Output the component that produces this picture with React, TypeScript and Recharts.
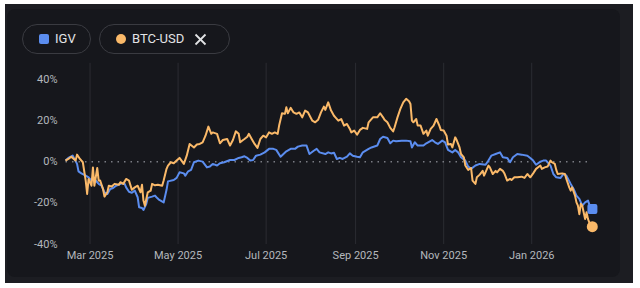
import React from "react";
import { LineChart, Line, XAxis, YAxis, ReferenceLine } from "recharts";

// x values: days since 2025-02-12
const IGV_DAYS = [0,2,5,8,9,11,14,16,18,19,22,23,25,27,29,31,33,35,39,41,42,44,46,48,50,51,53,54,56,57,60,62,63,65,68,70,71,75,77,79,82,83,85,87,89,92,95,98,100,102,105,107,110,114,117,120,122,124,126,128,130,132,135,138,141,144,146,149,151,153,156,159,161,164,167,169,172,174,176,180,182,184,186,188,190,192,195,197,199,202,204,206,210,212,216,218,220,223,225,227,229,233,236,239,240,242,244,248,250,254,256,258,261,263,265,268,270,272,274,277,279,281,284,287,291,293,295,298,301,303,306,308,310,313,316,320,322,324,326,329,331,333,336,338,340,343,345,347,350,352,354,356,358,360,362,364];
const IGV_VALUES = [0.5,1.8,2.9,-1.1,-4.7,-5.7,-6.8,-7.6,-9.2,-7.6,-10.0,-10.8,-11.7,-14.9,-15.7,-13.3,-12.8,-11.7,-10.5,-10.8,-12.5,-14.6,-15.1,-14.1,-17.3,-22.2,-22.5,-23.5,-20.5,-17.6,-17.0,-16.5,-17.3,-18.6,-19.8,-13.7,-9.6,-8.9,-7.9,-5.2,-5.7,-6.8,-4.7,-4.0,-0.3,0.5,0.0,-2.8,-2.4,-1.1,-1.9,-0.8,-0.3,0.8,0.8,1.8,2.1,2.6,1.8,0.5,0.8,2.9,3.4,4.5,6.2,6.2,5.7,2.4,3.7,5.0,6.2,6.2,7.3,7.8,7.8,3.7,5.3,6.2,4.5,3.7,4.5,4.0,4.3,1.3,1.8,1.3,2.4,4.0,2.9,2.4,2.1,4.5,6.2,6.9,7.8,11.0,12.1,11.5,8.9,10.2,9.9,10.2,10.2,9.9,6.9,9.4,7.8,7.8,8.9,10.5,9.4,8.6,10.2,9.4,5.7,4.5,5.7,4.5,2.1,0.5,-2.4,-3.5,-1.9,-1.1,-1.5,0.5,2.9,3.7,4.5,2.1,1.8,-0.3,2.1,3.7,3.4,2.9,1.8,0.5,-1.5,0.0,0.5,0.5,-1.9,-6.0,-7.6,-7.9,-6.0,-6.8,-10.8,-13.3,-16.5,-18.1,-21.4,-19.8,-18.9,-23.0];

const BTC_DAYS = [0,2,4,7,8,10,12,14,15,16,18,19,20,22,23,24,26,27,29,30,32,34,37,38,40,42,44,46,48,50,52,53,54,55,57,59,60,62,64,67,68,70,71,73,75,77,79,82,84,86,89,91,93,95,97,99,101,102,105,107,109,112,114,116,118,120,121,123,124,126,127,129,131,133,135,137,139,141,143,145,147,148,150,152,153,154,156,158,160,162,164,166,168,171,173,175,177,179,180,182,184,186,187,189,191,193,195,197,198,200,202,204,206,209,210,213,216,218,220,221,223,225,227,228,230,232,234,236,238,239,240,241,243,244,246,248,250,251,253,255,257,259,260,262,264,265,267,268,270,271,273,274,276,277,279,281,282,284,285,287,289,290,293,294,296,298,299,301,303,304,306,308,309,311,313,316,318,320,322,324,326,329,330,332,334,336,337,339,340,341,344,346,347,349,350,351,353,354,355,356,357,358,360,361,362,364];
const BTC_VALUES = [0.5,1.3,2.4,0.5,3.4,1.3,-0.3,-9.2,-15.7,-8.4,-11.7,-2.8,-11.7,-3.1,-9.2,-9.2,-13.3,-17.0,-14.9,-11.7,-12.1,-10.8,-11.2,-10.0,-10.8,-8.4,-9.2,-13.7,-12.5,-11.7,-14.9,-11.2,-18.9,-21.4,-14.9,-14.1,-10.8,-11.5,-11.2,-11.7,-9.2,-3.5,-1.9,-0.3,-0.8,0.5,1.8,-1.1,2.9,8.6,6.9,8.3,8.6,9.4,12.6,17.0,13.5,14.2,13.5,8.9,10.5,11.0,7.8,10.5,14.7,13.5,9.4,10.5,11.0,12.1,13.5,11.0,8.6,6.7,11.0,12.6,11.8,14.2,13.5,14.2,13.5,17.5,23.5,23.2,26.4,23.5,26.1,23.9,23.2,23.9,21.5,24.8,23.9,19.9,19.1,20.3,23.9,26.7,25.1,28.8,24.8,22.3,21.5,19.9,20.7,17.5,18.3,15.9,14.2,15.1,13.1,15.4,16.4,15.9,19.1,21.5,21.5,23.5,21.5,20.3,19.1,16.4,14.7,16.7,21.5,25.6,28.8,30.5,29.3,28.0,19.9,19.1,20.7,17.5,17.5,13.5,15.1,12.6,15.9,17.5,20.7,17.5,15.4,15.1,12.6,8.3,8.6,6.9,11.8,10.5,6.9,3.7,2.1,-1.9,-4.0,-3.1,-9.2,-10.8,-7.6,-6.3,-4.5,-6.8,-1.9,-2.8,-6.0,-4.5,-5.2,-3.5,-4.5,-5.6,-9.2,-8.4,-8.9,-7.6,-7.6,-7.3,-7.9,-6.0,-7.6,-5.7,-3.5,-1.9,-3.5,-2.8,-2.4,0.5,-0.3,-1.1,-4.0,-6.0,-5.7,-6.0,-8.4,-12.5,-14.1,-12.5,-16.5,-19.8,-21.4,-25.5,-20.5,-21.4,-27.9,-24.6,-27.9,-31.6];

const X_TICKS = [17, 78, 139, 201, 262, 323];
const X_TICK_LABELS = ["Mar 2025", "May 2025", "Jul 2025", "Sep 2025", "Nov 2025", "Jan 2026"];
const Y_TICKS = [-40, -20, 0, 20, 40];

const SERIES_NAMES = ["IGV", "BTC-USD"];
const BLUE = "#5b8def";
const ORANGE = "#fab969";
const FONT = "Roboto, 'Noto Sans', sans-serif";

const igvData = IGV_DAYS.map((d, i) => ({ day: d, value: IGV_VALUES[i] }));
const btcData = BTC_DAYS.map((d, i) => ({ day: d, value: BTC_VALUES[i] }));

const XTick = (props: any) => {
  const idx = X_TICKS.indexOf(props.payload.value);
  return (
    <text x={props.x} y={255} textAnchor="middle" dominantBaseline="central" fill="#b4b7bc" fontSize={11} fontFamily={FONT}>
      {X_TICK_LABELS[idx]}
    </text>
  );
};

const YTick = (props: any) => (
  <text x={57.5} y={props.y} textAnchor="end" dominantBaseline="central" fill="#b4b7bc" fontSize={11} fontFamily={FONT}>
    {`${props.payload.value}%`}
  </text>
);

const squareDot = (last: number) => (props: any) => {
  if (props.index !== last) return <g key={`s${props.index}`} />;
  return <rect key="sq" x={props.cx - 3.5} y={props.cy - 5} width={10} height={10} rx={2} fill={BLUE} />;
};
const circleDot = (last: number) => (props: any) => {
  if (props.index !== last) return <g key={`c${props.index}`} />;
  return <circle key="ci" cx={props.cx + 1.4} cy={props.cy} r={5.5} fill={ORANGE} />;
};

export default function App() {
  return (
    <div style={{ position: "absolute", left: 0, top: 0, width: 640, height: 288, background: "#ffffff", overflow: "hidden" }}>
      <div style={{ position: "absolute", left: 5, top: 4, width: 628, height: 279, background: "#1c1d22" }} />
      <div style={{ position: "absolute", left: 7, top: 9, width: 613, height: 268, background: "#16171c", borderRadius: 8 }} />
      {/* legend chips */}
      <div style={{ position: "absolute", left: 22, top: 24, width: 67, height: 28, border: "1px solid #3a3b41", borderRadius: 15, boxSizing: "content-box" }}>
        <div style={{ position: "absolute", left: 16, top: 9, width: 10, height: 10, borderRadius: 2, background: BLUE }} />
        <div style={{ position: "absolute", left: 32, top: 0, height: 28, lineHeight: "28px", fontSize: 13, color: "#e3e4e6", fontFamily: FONT }}>{SERIES_NAMES[0]}</div>
      </div>
      <div style={{ position: "absolute", left: 99, top: 24, width: 129, height: 28, border: "1px solid #3a3b41", borderRadius: 15, boxSizing: "content-box" }}>
        <div style={{ position: "absolute", left: 16, top: 9, width: 10, height: 10, borderRadius: 5, background: ORANGE }} />
        <div style={{ position: "absolute", left: 32, top: 0, height: 28, lineHeight: "28px", fontSize: 13, color: "#e3e4e6", fontFamily: FONT }}>{SERIES_NAMES[1]}</div>
        <svg style={{ position: "absolute", left: 94, top: 8 }} width={13} height={13}>
          <line x1={1.5} y1={1.5} x2={11.5} y2={11.5} stroke="#e3e4e6" strokeWidth={1.8} />
          <line x1={11.5} y1={1.5} x2={1.5} y2={11.5} stroke="#e3e4e6" strokeWidth={1.8} />
        </svg>
      </div>
      <div style={{ position: "absolute", left: 0, top: 0 }}>
        <LineChart width={640} height={288} margin={{ top: 62.8, right: 49.1, bottom: 14, left: 5.5 }}>
          <XAxis type="number" dataKey="day" domain={[0, 364]} ticks={X_TICKS} tick={<XTick />} axisLine={false} tickLine={false} height={30} />
          <YAxis type="number" domain={[-40, 48]} ticks={Y_TICKS} tick={<YTick />} axisLine={false} tickLine={false} width={60} />
          {X_TICKS.map((t) => (
            <ReferenceLine key={t} x={t} stroke="#2b2c32" strokeWidth={1} />
          ))}
          <ReferenceLine y={0} stroke="#7a7d83" strokeWidth={1.5} strokeDasharray="1.5 5" />
          <Line data={igvData} dataKey="value" type="linear" stroke={BLUE} strokeWidth={2} dot={squareDot(igvData.length - 1)} activeDot={false} isAnimationActive={false} strokeLinejoin="round" />
          <Line data={btcData} dataKey="value" type="linear" stroke={ORANGE} strokeWidth={2} dot={circleDot(btcData.length - 1)} activeDot={false} isAnimationActive={false} strokeLinejoin="round" />
        </LineChart>
      </div>
    </div>
  );
}
